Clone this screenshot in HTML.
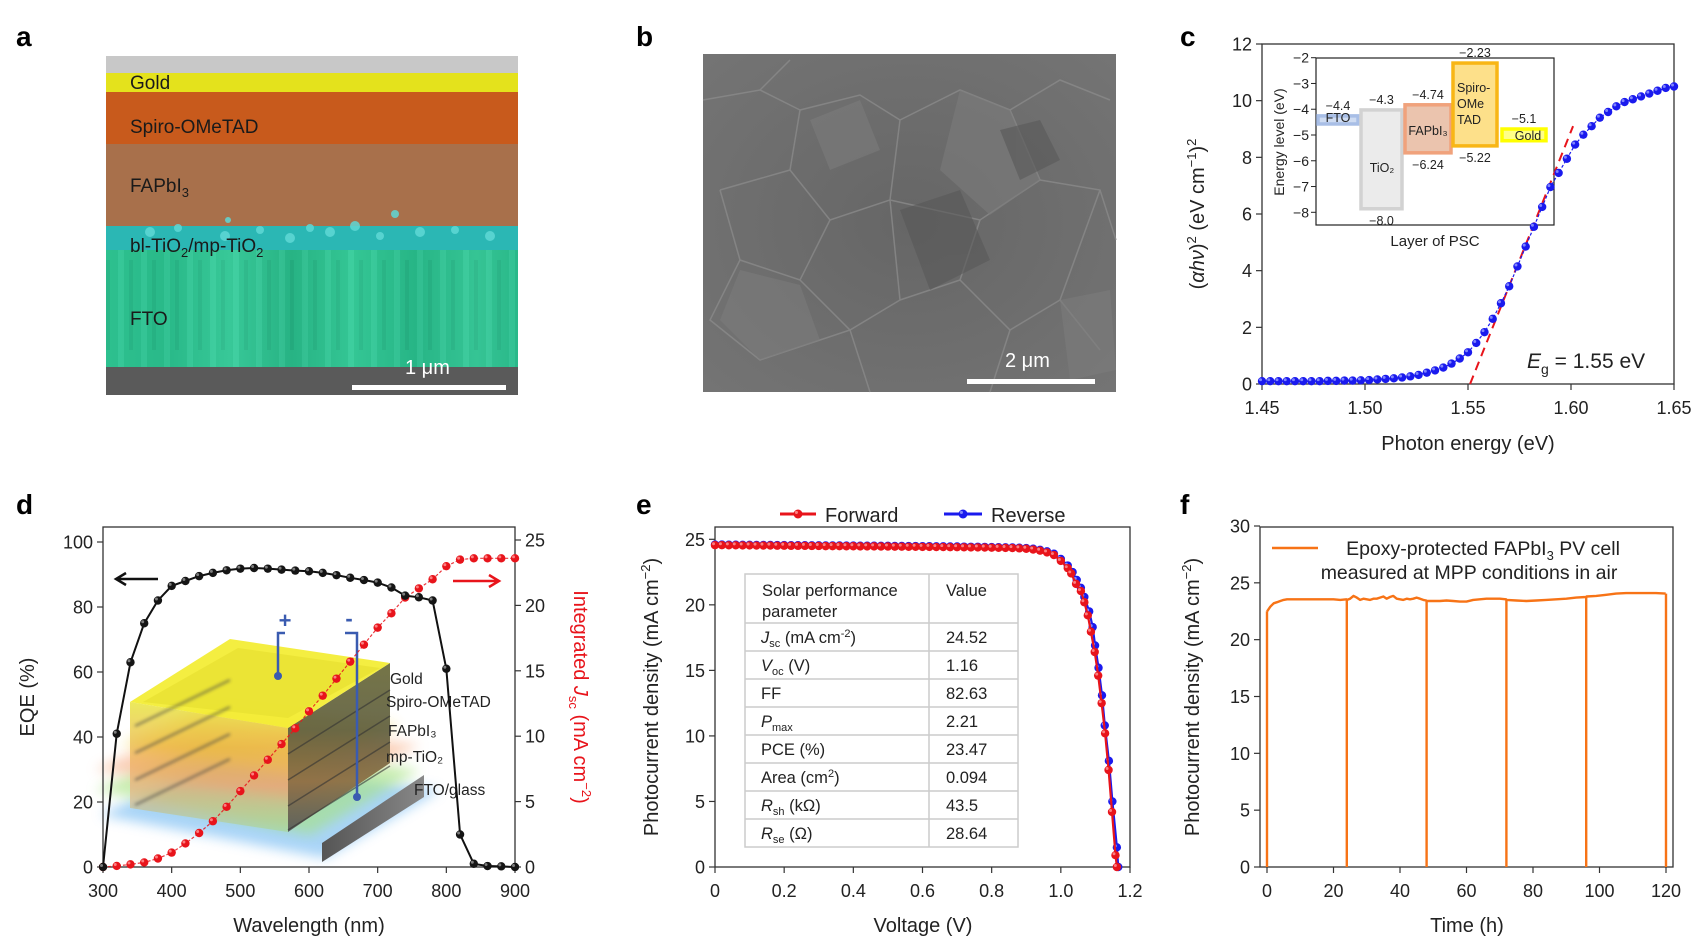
<!DOCTYPE html>
<html><head><meta charset="utf-8">
<style>
html,body{margin:0;padding:0;background:#fff;}
svg{display:block;font-family:"Liberation Sans",Arial,sans-serif;}
</style></head>
<body>
<svg id="fig" width="1698" height="941" viewBox="0 0 1698 941" xmlns="http://www.w3.org/2000/svg">
<defs>
  <linearGradient id="fgrad" x1="0" y1="0" x2="1" y2="0">
    <stop offset="0" stop-color="#2fc392"/><stop offset="0.15" stop-color="#26b585"/><stop offset="0.3" stop-color="#44d3a4"/><stop offset="0.45" stop-color="#23a97c"/><stop offset="0.6" stop-color="#3ccf9d"/><stop offset="0.75" stop-color="#22ad80"/><stop offset="0.9" stop-color="#3fcb9d"/><stop offset="1" stop-color="#27b386"/>
  </linearGradient>
  <pattern id="fstripe" width="23" height="120" patternUnits="userSpaceOnUse">
    <rect width="23" height="120" fill="#2cbd8c"/>
    <rect x="3" y="0" width="6" height="120" fill="#47d6a8" opacity="0.7"/>
    <rect x="14" y="20" width="4" height="90" fill="#1f9f74" opacity="0.6"/>
  </pattern>
  <radialGradient id="semg" cx="0.5" cy="0.5" r="0.7">
    <stop offset="0" stop-color="#666"/><stop offset="1" stop-color="#747474"/>
  </radialGradient>
  <linearGradient id="slabFront" x1="0" y1="0" x2="0" y2="1">
    <stop offset="0" stop-color="#e8e640" stop-opacity="0.85"/><stop offset="0.35" stop-color="#e9b23a" stop-opacity="0.7"/><stop offset="0.65" stop-color="#f0a070" stop-opacity="0.6"/><stop offset="1" stop-color="#a8d890" stop-opacity="0.6"/>
  </linearGradient>
  <linearGradient id="slabRight" x1="0" y1="0" x2="0" y2="1">
    <stop offset="0" stop-color="#666633"/><stop offset="0.4" stop-color="#5b5a3a"/><stop offset="0.7" stop-color="#8a6a40"/><stop offset="1" stop-color="#555"/>
  </linearGradient>
  <linearGradient id="plateG" x1="0" y1="0" x2="1" y2="0">
    <stop offset="0" stop-color="#555"/><stop offset="1" stop-color="#888"/>
  </linearGradient>
  <filter id="blur6"><feGaussianBlur stdDeviation="6"/></filter>
  <filter id="blur2"><feGaussianBlur stdDeviation="1.5"/></filter>
</defs>

<text x="16" y="46" font-size="28" font-weight="bold">a</text>
<text x="636" y="46" font-size="28" font-weight="bold">b</text>
<text x="1180" y="46" font-size="28" font-weight="bold">c</text>
<text x="16" y="514" font-size="28" font-weight="bold">d</text>
<text x="636" y="514" font-size="28" font-weight="bold">e</text>
<text x="1180" y="514" font-size="28" font-weight="bold">f</text>

<g>
  <rect x="106" y="56" width="412" height="339" fill="#bdbdbd"/>
  <rect x="106" y="56" width="412" height="20" fill="#c8c8c8"/>
  <rect x="106" y="73" width="412" height="22" fill="#e4e21c"/>
  <rect x="106" y="92" width="412" height="54" fill="#c85a1c"/>
  <rect x="106" y="144" width="412" height="84" fill="#a8704b"/>
  <rect x="106" y="226" width="412" height="28" fill="#2bb7b4"/>
  <rect x="106" y="250" width="412" height="120" fill="url(#fstripe)"/>
  <rect x="106" y="250" width="412" height="120" fill="url(#fgrad)" opacity="0.5"/>
  <rect x="106" y="367" width="412" height="28" fill="#5a5a5a"/>
  <g fill="#5fd8d6" opacity="0.85">
    <circle cx="150" cy="232" r="5"/><circle cx="178" cy="228" r="4"/><circle cx="225" cy="236" r="5"/><circle cx="260" cy="230" r="4"/><circle cx="290" cy="238" r="5"/><circle cx="310" cy="228" r="4"/><circle cx="330" cy="232" r="5"/><circle cx="355" cy="226" r="5"/><circle cx="380" cy="236" r="4"/><circle cx="420" cy="232" r="5"/><circle cx="455" cy="230" r="4"/><circle cx="490" cy="236" r="5"/><circle cx="395" cy="214" r="4"/><circle cx="228" cy="220" r="3"/>
  </g>
  <rect x="352" y="385" width="154" height="5" fill="#fff"/>
  <text x="405" y="374" font-size="20" fill="#fff">1 μm</text>
  <g font-size="19" fill="#1a1a1a">
    <text x="130" y="89">Gold</text>
    <text x="130" y="133">Spiro-OMeTAD</text>
    <text x="130" y="192">FAPbI<tspan font-size="13" dy="5">3</tspan></text>
    <text x="130" y="252">bl-TiO<tspan font-size="13" dy="5">2</tspan><tspan dy="-5">/mp-TiO</tspan><tspan font-size="13" dy="5">2</tspan></text>
    <text x="130" y="325">FTO</text>
  </g>
</g>

<g>
  <rect x="703" y="54" width="413" height="338" fill="url(#semg)"/>
  <g fill="none" stroke="#8a8a8a" stroke-width="1.5" opacity="0.8">
    <path d="M703 100 L760 90 L800 110 L790 170 L720 190"/>
    <path d="M760 90 L790 60 M800 110 L860 95 L900 120 L890 200 L830 220 L790 170"/>
    <path d="M900 120 L960 90 L1010 110 L1040 180 L980 220 L890 200"/>
    <path d="M1010 110 L1060 80 L1110 100 M1040 180 L1100 190 L1116 240"/>
    <path d="M720 190 L740 260 L800 280 L830 220 M800 280 L850 330 L900 300 L890 200"/>
    <path d="M900 300 L960 280 L980 220 M960 280 L1010 330 L1060 300 L1100 190"/>
    <path d="M740 260 L710 320 L760 360 L850 330 M850 330 L870 392 M1010 330 L990 392 M1060 300 L1100 350"/>
  </g>
  <g fill="#7c7c7c" opacity="0.6">
    <polygon points="960,90 1010,110 1040,180 990,215 940,170"/>
    <polygon points="740,270 800,285 820,340 760,360 720,320"/>
    <polygon points="1060,300 1110,290 1116,370 1070,380"/>
    <polygon points="810,120 860,100 880,150 830,170"/>
  </g>
  <g fill="#585858" opacity="0.6">
    <polygon points="900,210 960,190 990,260 930,290"/>
    <polygon points="1000,130 1040,120 1060,160 1020,180"/>
  </g>
  <rect x="967" y="379" width="128" height="5" fill="#fff"/>
  <text x="1005" y="367" font-size="20" fill="#fff">2 μm</text>
</g>

<g id="panelC"></g>
<g id="panelD"></g>
<g id="panelE"></g>
<g id="panelF"></g>
</svg>

<script>
const cEnergy = [1.450,1.454,1.458,1.462,1.466,1.470,1.474,1.478,1.482,1.486,1.490,1.494,1.498,1.502,1.506,1.510,1.514,1.518,1.522,1.526,1.530,1.534,1.538,1.542,1.546,1.550,1.554,1.558,1.562,1.566,1.570,1.574,1.578,1.582,1.586,1.590,1.594,1.598,1.602,1.606,1.610,1.614,1.618,1.622,1.626,1.630,1.634,1.638,1.642,1.646,1.650];
const cAbs = [0.10,0.10,0.10,0.10,0.10,0.10,0.10,0.10,0.11,0.11,0.12,0.12,0.13,0.14,0.16,0.18,0.20,0.23,0.27,0.32,0.40,0.48,0.58,0.72,0.90,1.12,1.45,1.83,2.30,2.85,3.45,4.15,4.85,5.55,6.25,6.95,7.45,7.95,8.45,8.80,9.10,9.40,9.60,9.80,9.95,10.05,10.15,10.25,10.35,10.45,10.50];
const cFitX = [1.551,1.601];
const cFitY = [0,9.1];
const cXTicks = [1.45,1.50,1.55,1.60,1.65];
const cXTickLabels = ['1.45','1.50','1.55','1.60','1.65'];
const cYTicks = [0,2,4,6,8,10,12];
const insetTicks = [-2,-3,-4,-5,-6,-7,-8];
const insetLayers = ['FTO','TiO2','FAPbI3','Spiro','Gold'];
const insetTop = [-4.18,-3.95,-3.75,-2.13,-4.69];
const insetBottom = [-4.65,-7.94,-5.77,-5.50,-5.30];
const insetLabelTop = ['−4.4','−4.3','−4.74','−2.23','−5.1'];
const insetLabelBottom = ['','−8.0','−6.24','−5.22',''];

const dWavelength = [300,320,340,360,380,400,420,440,460,480,500,520,540,560,580,600,620,640,660,680,700,720,740,760,780,800,820,840,860,880,900];
const dEQE = [0,41,63,75,82,86.5,88,89.5,90.5,91.3,91.8,92,91.8,91.5,91.2,91,90.5,89.8,89,88.3,87.5,86,83.5,83,82,61,10,1,0.3,0.2,0];
const dJsc = [0,0.08,0.2,0.35,0.65,1.1,1.8,2.6,3.5,4.6,5.8,7.0,8.2,9.4,10.6,11.9,13.1,14.4,15.7,17.0,18.3,19.4,20.6,21.3,22.0,23.0,23.5,23.6,23.6,23.6,23.6];
const dXTicks = [300,400,500,600,700,800,900];
const dYTicks = [0,20,40,60,80,100];
const dY2Ticks = [0,5,10,15,20,25];

const eFwdV = [0,0.02,0.04,0.06,0.08,0.10,0.12,0.14,0.16,0.18,0.20,0.22,0.24,0.26,0.28,0.30,0.32,0.34,0.36,0.38,0.40,0.42,0.44,0.46,0.48,0.50,0.52,0.54,0.56,0.58,0.60,0.62,0.64,0.66,0.68,0.70,0.72,0.74,0.76,0.78,0.80,0.82,0.84,0.86,0.88,0.90,0.92,0.94,0.96,0.98,1.00,1.02,1.03,1.044,1.058,1.068,1.078,1.087,1.098,1.108,1.118,1.128,1.138,1.148,1.158,1.162];
const eFwdJ = [24.55,24.55,24.54,24.54,24.53,24.53,24.52,24.52,24.52,24.51,24.51,24.5,24.5,24.5,24.49,24.49,24.48,24.48,24.48,24.47,24.47,24.46,24.46,24.46,24.45,24.45,24.44,24.44,24.43,24.43,24.42,24.42,24.41,24.41,24.4,24.4,24.39,24.38,24.38,24.37,24.36,24.35,24.34,24.33,24.31,24.28,24.22,24.13,24.0,23.8,23.35,22.8,22.4,21.6,21.05,20.2,19.2,17.95,16.4,14.6,12.5,10.2,7.4,4.2,0.9,0];
const eRevV = [0,0.02,0.04,0.06,0.08,0.10,0.12,0.14,0.16,0.18,0.20,0.22,0.24,0.26,0.28,0.30,0.32,0.34,0.36,0.38,0.40,0.42,0.44,0.46,0.48,0.50,0.52,0.54,0.56,0.58,0.60,0.62,0.64,0.66,0.68,0.70,0.72,0.74,0.76,0.78,0.80,0.82,0.84,0.86,0.88,0.90,0.92,0.94,0.96,0.98,1.00,1.02,1.034,1.046,1.058,1.068,1.082,1.092,1.099,1.109,1.119,1.127,1.139,1.149,1.162,1.166];
const eRevJ = [24.6,24.6,24.59,24.59,24.58,24.58,24.57,24.57,24.57,24.56,24.56,24.55,24.55,24.55,24.54,24.54,24.53,24.53,24.53,24.52,24.52,24.51,24.51,24.51,24.5,24.5,24.49,24.49,24.48,24.48,24.47,24.47,24.46,24.46,24.45,24.45,24.44,24.43,24.43,24.42,24.41,24.4,24.39,24.38,24.36,24.33,24.28,24.2,24.08,23.9,23.5,23.0,22.5,21.9,21.3,20.6,19.5,18.3,16.9,15.2,13.1,10.8,8.1,5.0,1.5,0];
const eXTicks = [0,0.2,0.4,0.6,0.8,1.0,1.2];
const eXTickLabels = ['0','0.2','0.4','0.6','0.8','1.0','1.2'];
const eYTicks = [0,5,10,15,20,25];
const eParams = ['Jsc','Voc','FF','Pmax','PCE','Area','Rsh','Rse'];
const eValues = ['24.52','1.16','82.63','2.21','23.47','0.094','43.5','28.64'];

const fTime = [0,0.3,1,2,3,4,5,6,8,10,12,14,16,18,20,22,23.9,24.1,25,26,27,28,29,30,31,32,33,34,35,36,37,38,39,40,41,42,43,44,45,46,47,47.9,48.1,50,52,54,56,58,60,62,64,66,68,70,71.9,72.1,75,78,81,84,87,90,93,95.9,96.1,99,102,105,108,111,114,117,119.9];
const fJ = [22.5,22.6,22.9,23.2,23.3,23.4,23.5,23.55,23.55,23.55,23.55,23.55,23.55,23.55,23.55,23.5,23.55,23.5,23.6,23.85,23.7,23.5,23.6,23.55,23.5,23.6,23.6,23.7,23.8,23.6,23.75,23.85,23.6,23.55,23.5,23.6,23.55,23.6,23.7,23.6,23.5,23.45,23.4,23.4,23.4,23.45,23.4,23.35,23.35,23.5,23.55,23.6,23.6,23.6,23.55,23.5,23.45,23.4,23.45,23.5,23.55,23.6,23.7,23.75,23.8,23.85,23.95,24.05,24.1,24.1,24.1,24.1,24.05];
const fDrops = [0,24,48,72,96,120];
const fXTicks = [0,20,40,60,80,100,120];
const fYTicks = [0,5,10,15,20,25,30];

const NS = 'http://www.w3.org/2000/svg';
function mk(tag, attrs, parent) {
  const e = document.createElementNS(NS, tag);
  for (const k in attrs) e.setAttribute(k, attrs[k]);
  parent.appendChild(e);
  return e;
}
function lin(d0, d1, r0, r1) { return v => r0 + (v - d0) * (r1 - r0) / (d1 - d0); }
function frame(g, x0, y0, x1, y1) {
  const r = mk('rect', {x: x0, y: y0, width: x1 - x0, height: y1 - y0, fill: 'none', stroke: '#333', 'stroke-width': 1.3}, g);
  
  
}
function xTicks(g, vals, labels, sx, y, size) {
  vals.forEach((v, i) => {
    const t = mk('line', {x1: sx(v), x2: sx(v), y1: y, y2: y + 6, stroke: '#333', 'stroke-width': 1.2}, g);
    
    
    const l = mk('text', {x: sx(v), y: y + 30, 'font-size': size, 'text-anchor': 'middle', fill: '#222'}, g);
    
    
    l.textContent = labels[i];
  });
}
function yTicks(g, vals, labels, sy, x, dir, size, color) {
  vals.forEach((v, i) => {
    const t = mk('line', {x1: x, x2: x + 6 * dir, y1: sy(v), y2: sy(v), stroke: '#333', 'stroke-width': 1.2}, g);
    
    
    const l = mk('text', {x: x + 10 * dir, y: sy(v) + size * 0.36, 'font-size': size, 'text-anchor': dir < 0 ? 'end' : 'start', fill: color || '#222'}, g);
    
    
    l.textContent = labels[i];
  });
}
function polyPath(xs, ys, sx, sy) {
  return xs.map((v, i) => (i ? 'L' : 'M') + sx(v).toFixed(1) + ' ' + sy(ys[i]).toFixed(1)).join(' ');
}
function ballMarker(g, cx, cy, r, fill, hi, name) {
  const c = mk('circle', {cx: cx, cy: cy, r: r, fill: fill}, g);
  
  
  mk('circle', {cx: cx - r * 0.35, cy: cy - r * 0.35, r: r * 0.35, fill: hi, opacity: 0.8}, g);
}

(function () {
  const g = document.getElementById('panelC');
  const X0 = 1262, X1 = 1674, Y0 = 384, Y1 = 44;
  const sx = lin(1.45, 1.65, X0, X1), sy = lin(0, 12, Y0, Y1);
  frame(g, X0, Y1, X1, Y0);
  xTicks(g, cXTicks, cXTickLabels, sx, Y0, 18);
  yTicks(g, cYTicks, cYTicks.map(String), sy, X0, -1, 18);
  const ix0 = 1316, ix1 = 1554, iy0 = 58, iy1 = 225;
  const isy = lin(-2, -8, 57.7, 212.3);
  const ir = mk('rect', {x: ix0, y: iy0, width: ix1 - ix0, height: iy1 - iy0, fill: '#fff', stroke: '#222', 'stroke-width': 1.2}, g);
  
  
  insetTicks.forEach(v => {
    const t = mk('line', {x1: ix0, x2: ix0 - 5, y1: isy(v), y2: isy(v), stroke: '#222'}, g);
    
    
    const l = mk('text', {x: ix0 - 7, y: isy(v) + 5, 'font-size': 14, 'text-anchor': 'end', fill: '#222'}, g);
    
    
    l.textContent = '−' + Math.abs(v);
  });
  const bx = [[1316,1360],[1359,1404],[1403,1453],[1451,1499],[1500,1548]];
  const fills = ['#cfdcf2','#ebebeb','#ebc4ae','#fde08a','#ffff88'];
  const strokes = ['#a8bee6','#d2d2d2','#f0a27c','#f8b616','#ffff00'];
  insetLayers.forEach((n, i) => {
    const r = mk('rect', {x: bx[i][0] + 2, y: isy(insetTop[i]) + 2, width: bx[i][1] - bx[i][0] - 4, height: isy(insetBottom[i]) - isy(insetTop[i]) - 4, fill: fills[i], stroke: strokes[i], 'stroke-width': 3.5}, g);
    
    
    const cx = (bx[i][0] + bx[i][1]) / 2;
    const tl = mk('text', {x: cx, y: isy(insetTop[i]) - 4, 'font-size': 12.5, 'text-anchor': 'middle', fill: '#222'}, g);
    
    
    tl.textContent = insetLabelTop[i];
    if (insetLabelBottom[i]) {
      const bl = mk('text', {x: cx, y: isy(insetBottom[i]) + 14, 'font-size': 12.5, 'text-anchor': 'middle', fill: '#222'}, g);
      
      
      bl.textContent = insetLabelBottom[i];
    }
  });
  const names = [['FTO',1338,122],['TiO₂',1382,172],['FAPbI₃',1428,135],['Gold',1528,140]];
  names.forEach(n => {
    const t = mk('text', {x: n[1], y: n[2], 'font-size': 12.5, 'text-anchor': 'middle', fill: '#222'}, g);
    
    
    t.textContent = n[0];
  });
  ['Spiro-','OMe','TAD'].forEach((s, i) => {
    const t = mk('text', {x: 1457, y: 92 + i * 16, 'font-size': 12.5, fill: '#222'}, g);
    
    
    t.textContent = s;
  });
  const iyl = mk('text', {x: 0, y: 0, 'font-size': 14, 'text-anchor': 'middle', fill: '#222', transform: 'translate(1284,142) rotate(-90)'}, g);
  
  
  iyl.textContent = 'Energy level (eV)';
  const ixl = mk('text', {x: 1435, y: 246, 'font-size': 15, 'text-anchor': 'middle', fill: '#222'}, g);
  
  
  ixl.textContent = 'Layer of PSC';
  const fit = mk('line', {x1: sx(cFitX[0]), y1: sy(cFitY[0]), x2: sx(cFitX[1]), y2: sy(cFitY[1]), stroke: '#e8141b', 'stroke-width': 2, 'stroke-dasharray': '9,6'}, g);
  
  
  const ln = mk('path', {d: polyPath(cEnergy, cAbs, sx, sy), fill: 'none', stroke: '#1a1aee', 'stroke-width': 1.2, 'stroke-dasharray': '3,2'}, g);
  
  
  cEnergy.forEach((e, i) => ballMarker(g, sx(e), sy(cAbs[i]), 4.2, '#1a1aee', '#9aa0ff', 'tauc-point'));
  const eg = mk('text', {x: 1527, y: 368, 'font-size': 21, fill: '#222'}, g);
  
  
  eg.innerHTML = '<tspan font-style="italic">E</tspan><tspan font-size="14" dy="6">g</tspan><tspan dy="-6"> = 1.55 eV</tspan>';
  const xt = mk('text', {x: 1468, y: 450, 'font-size': 20, 'text-anchor': 'middle', fill: '#222'}, g);
  
  
  xt.textContent = 'Photon energy (eV)';
  const yt = mk('text', {x: 0, y: 0, 'font-size': 20, 'text-anchor': 'middle', fill: '#222', transform: 'translate(1204,214) rotate(-90)'}, g);
  
  
  yt.innerHTML = '(<tspan font-style="italic">αhν</tspan>)<tspan font-size="13" dy="-8">2</tspan><tspan dy="8"> (eV cm</tspan><tspan font-size="13" dy="-8">−1</tspan><tspan dy="8">)</tspan><tspan font-size="13" dy="-8">2</tspan>';
})();

(function () {
  const g = document.getElementById('panelD');
  const X0 = 103, X1 = 515, Y0 = 867, Y1 = 527;
  const sx = lin(300, 900, X0, X1), sy = lin(0, 100, Y0, 542), sy2 = lin(0, 25, Y0, 540);
  const ill = mk('g', {}, g);
  
  
  mk('polygon', {points: '100,815 215,760 440,790 325,858', fill: '#8cc6f4', opacity: 0.75, filter: 'url(#blur6)'}, ill);
  mk('polygon', {points: '95,790 205,740 420,770 310,835', fill: '#a6e27e', opacity: 0.6, filter: 'url(#blur6)'}, ill);
  mk('polygon', {points: '95,770 200,720 420,745 300,800', fill: '#f6a070', opacity: 0.5, filter: 'url(#blur6)'}, ill);
  mk('polygon', {points: '120,745 210,700 400,725 300,775', fill: '#f7d640', opacity: 0.45, filter: 'url(#blur6)'}, ill);
  mk('polygon', {points: '322,843 424,775 424,797 322,862', fill: 'url(#plateG)'}, ill);
  mk('polygon', {points: '130,702 288,728 288,832 130,808', fill: 'url(#slabFront)'}, ill);
  mk('polygon', {points: '288,728 390,663 390,763 288,832', fill: 'url(#slabRight)', opacity: 0.9}, ill);
  mk('polygon', {points: '130,702 230,639 390,663 288,728', fill: '#f3ec2c', opacity: 0.9}, ill);
  mk('polygon', {points: '143,702 238,648 380,668 288,718', fill: '#e7e030', opacity: 0.7}, ill);
  [730, 756, 782, 806].forEach((yy, k) => {
    mk('line', {x1: 135, y1: yy - 4 + k, x2: 230, y2: yy - 50 + k, stroke: '#444', 'stroke-width': 2, opacity: 0.7, filter: 'url(#blur2)'}, ill);
    mk('line', {x1: 288, y1: yy + 24, x2: 390, y2: yy - 40, stroke: '#333', 'stroke-width': 1.5, opacity: 0.6}, ill);
  });
  mk('path', {d: 'M285 633 L278 633 L278 676', stroke: '#3a5bb0', 'stroke-width': 2.5, fill: 'none'}, ill);
  mk('circle', {cx: 278, cy: 676, r: 4, fill: '#3a5bb0'}, ill);
  mk('path', {d: 'M345 633 L357 633 L357 797', stroke: '#3a5bb0', 'stroke-width': 2.5, fill: 'none'}, ill);
  mk('circle', {cx: 357, cy: 797, r: 4, fill: '#3a5bb0'}, ill);
  const plus = mk('text', {x: 285, y: 628, 'font-size': 22, 'font-weight': 'bold', 'text-anchor': 'middle', fill: '#3a5bb0'}, ill);
  
  
  plus.textContent = '+';
  const minus = mk('text', {x: 349, y: 626, 'font-size': 22, 'font-weight': 'bold', 'text-anchor': 'middle', fill: '#3a5bb0'}, ill);
  
  
  minus.textContent = '-';
  const lbls = [['Gold',390,684],['Spiro-OMeTAD',386,707],['FAPbI₃',388,736],['mp-TiO₂',386,762],['FTO/glass',414,795]];
  lbls.forEach(l => {
    const t = mk('text', {x: l[1], y: l[2], 'font-size': 15.5, fill: '#222'}, ill);
    
    
    t.textContent = l[0];
  });
  frame(g, X0, Y1, X1, Y0);
  xTicks(g, dXTicks, dXTicks.map(String), sx, Y0, 18);
  yTicks(g, dYTicks, dYTicks.map(String), sy, X0, -1, 18);
  yTicks(g, dY2Ticks, dY2Ticks.map(String), sy2, X1, 1, 18);
  const jl = mk('path', {d: polyPath(dWavelength, dJsc, sx, sy2), fill: 'none', stroke: '#e8141b', 'stroke-width': 1.2, 'stroke-dasharray': '3,2', opacity: 0.85}, g);
  
  
  dWavelength.forEach((w, i) => ballMarker(g, sx(w), sy2(dJsc[i]), 4.2, '#e8141b', '#ff9a9a', 'jsc-point'));
  const el = mk('path', {d: polyPath(dWavelength, dEQE, sx, sy), fill: 'none', stroke: '#111', 'stroke-width': 2}, g);
  
  
  dWavelength.forEach((w, i) => ballMarker(g, sx(w), sy(dEQE[i]), 4.2, '#151515', '#999', 'eqe-point'));
  const a1 = mk('path', {d: 'M158 579 L118 579 M126 573 L116 579 L126 585', stroke: '#111', 'stroke-width': 2.5, fill: 'none'}, g);
  
  
  const a2 = mk('path', {d: 'M453 581 L497 581 M489 575 L499 581 L489 587', stroke: '#e8141b', 'stroke-width': 2.5, fill: 'none'}, g);
  
  
  const xt = mk('text', {x: 309, y: 932, 'font-size': 20, 'text-anchor': 'middle', fill: '#222'}, g);
  
  
  xt.textContent = 'Wavelength (nm)';
  const yt = mk('text', {x: 0, y: 0, 'font-size': 20, 'text-anchor': 'middle', fill: '#222', transform: 'translate(34,697) rotate(-90)'}, g);
  
  
  yt.textContent = 'EQE (%)';
  const yt2 = mk('text', {x: 0, y: 0, 'font-size': 20, 'text-anchor': 'middle', fill: '#e8141b', transform: 'translate(574,697) rotate(90)'}, g);
  
  
  yt2.innerHTML = 'Integrated <tspan font-style="italic">J</tspan><tspan font-size="13" dy="5">sc</tspan><tspan dy="-5"> (mA cm</tspan><tspan font-size="13" dy="-8">−2</tspan><tspan dy="8">)</tspan>';
})();

(function () {
  const g = document.getElementById('panelE');
  const X0 = 715, X1 = 1130, Y0 = 867, Y1 = 527;
  const sx = lin(0, 1.2, X0, X1), sy = lin(0, 25, Y0, 539.3);
  frame(g, X0, Y1, X1, Y0);
  xTicks(g, eXTicks, eXTickLabels, sx, Y0, 18);
  yTicks(g, eYTicks, eYTicks.map(String), sy, X0, -1, 18);
  const tx0 = 745, tx1 = 1018, tmid = 929;
  const rows = [574, 623, 651, 679, 707, 735, 763, 791, 819, 847];
  const tb = mk('g', {}, g);
  
  
  mk('rect', {x: tx0, y: rows[0], width: tx1 - tx0, height: rows[9] - rows[0], fill: '#fff', stroke: '#ccc', 'stroke-width': 1.5}, tb);
  mk('line', {x1: tmid, x2: tmid, y1: rows[0], y2: rows[9], stroke: '#ccc', 'stroke-width': 1.5}, tb);
  rows.slice(1, 9).forEach(r => mk('line', {x1: tx0, x2: tx1, y1: r, y2: r, stroke: '#ccc', 'stroke-width': 1.5}, tb));
  const h1 = mk('text', {x: 762, y: 596, 'font-size': 16.5, fill: '#222'}, tb);
  
  
  h1.textContent = 'Solar performance';
  const h1b = mk('text', {x: 762, y: 617, 'font-size': 16.5, fill: '#222'}, tb);
  h1b.textContent = 'parameter';
  const h2 = mk('text', {x: 946, y: 596, 'font-size': 16.5, fill: '#222'}, tb);
  
  
  h2.textContent = 'Value';
  const pHTML = {
    Jsc: '<tspan font-style="italic">J</tspan><tspan font-size="11" dy="4">sc</tspan><tspan dy="-4"> (mA cm</tspan><tspan font-size="11" dy="-6">-2</tspan><tspan dy="6">)</tspan>',
    Voc: '<tspan font-style="italic">V</tspan><tspan font-size="11" dy="4">oc</tspan><tspan dy="-4"> (V)</tspan>',
    FF: 'FF',
    Pmax: '<tspan font-style="italic">P</tspan><tspan font-size="11" dy="4">max</tspan>',
    PCE: 'PCE (%)',
    Area: 'Area (cm<tspan font-size="11" dy="-6">2</tspan><tspan dy="6">)</tspan>',
    Rsh: '<tspan font-style="italic">R</tspan><tspan font-size="11" dy="4">sh</tspan><tspan dy="-4"> (kΩ)</tspan>',
    Rse: '<tspan font-style="italic">R</tspan><tspan font-size="11" dy="4">se</tspan><tspan dy="-4"> (Ω)</tspan>'
  };
  eParams.forEach((p, i) => {
    const yy = (rows[i + 1] + rows[i + 2]) / 2 + 6;
    const t = mk('text', {x: 761, y: yy, 'font-size': 16.5, fill: '#222'}, tb);
    
    
    t.innerHTML = pHTML[p];
    const v = mk('text', {x: 946, y: yy, 'font-size': 16.5, fill: '#222'}, tb);
    
    
    v.textContent = eValues[i];
  });
  const rl = mk('path', {d: polyPath(eRevV, eRevJ, sx, sy), fill: 'none', stroke: '#1a1aee', 'stroke-width': 2.2}, g);
  
  
  eRevV.forEach((v, i) => ballMarker(g, sx(v), sy(eRevJ[i]), 4.2, '#1a1aee', '#9aa0ff', 'reverse-point'));
  const fl = mk('path', {d: polyPath(eFwdV, eFwdJ, sx, sy), fill: 'none', stroke: '#e8141b', 'stroke-width': 2.2}, g);
  
  
  eFwdV.forEach((v, i) => ballMarker(g, sx(v), sy(eFwdJ[i]), 4.2, '#e8141b', '#ff9a9a', 'forward-point'));
  const lg = mk('g', {}, g);
  
  
  mk('line', {x1: 780, x2: 816, y1: 514, y2: 514, stroke: '#e8141b', 'stroke-width': 3}, lg);
  ballMarker(lg, 798, 514, 4.5, '#e8141b', '#ff9a9a', 'legend-marker-forward');
  const lt1 = mk('text', {x: 825, y: 522, 'font-size': 20, fill: '#222'}, lg);
  
  
  lt1.textContent = 'Forward';
  mk('line', {x1: 944, x2: 982, y1: 514, y2: 514, stroke: '#1a1aee', 'stroke-width': 3}, lg);
  ballMarker(lg, 963, 514, 4.5, '#1a1aee', '#9aa0ff', 'legend-marker-reverse');
  const lt2 = mk('text', {x: 991, y: 522, 'font-size': 20, fill: '#222'}, lg);
  
  
  lt2.textContent = 'Reverse';
  const xt = mk('text', {x: 923, y: 932, 'font-size': 20, 'text-anchor': 'middle', fill: '#222'}, g);
  
  
  xt.textContent = 'Voltage (V)';
  const yt = mk('text', {x: 0, y: 0, 'font-size': 20, 'text-anchor': 'middle', fill: '#222', transform: 'translate(658,697) rotate(-90)'}, g);
  
  
  yt.innerHTML = 'Photocurrent density (mA cm<tspan font-size="13" dy="-8">−2</tspan><tspan dy="8">)</tspan>';
})();

(function () {
  const g = document.getElementById('panelF');
  const X0 = 1260, X1 = 1673, Y0 = 867, Y1 = 527;
  const sx = lin(0, 120, 1267, 1666), sy = lin(0, 30, Y0, 526);
  frame(g, X0, Y1, X1, Y0);
  xTicks(g, fXTicks, fXTicks.map(String), sx, Y0, 18);
  yTicks(g, fYTicks, fYTicks.map(String), sy, X0, -1, 18);
  const ln = mk('path', {d: polyPath(fTime, fJ, sx, sy), fill: 'none', stroke: '#f77316', 'stroke-width': 2.4, 'stroke-linejoin': 'round'}, g);
  
  
  fDrops.forEach(t => {
    let k = 0, best = 1e9;
    fTime.forEach((tt, i) => { if (Math.abs(tt - t) < best) { best = Math.abs(tt - t); k = i; } });
    const d = mk('line', {x1: sx(t), x2: sx(t), y1: sy(0), y2: sy(fJ[k]), stroke: '#f77316', 'stroke-width': 2.4}, g);
    
    
  });
  const lg = mk('g', {}, g);
  
  
  mk('line', {x1: 1272, x2: 1318, y1: 548, y2: 548, stroke: '#f77316', 'stroke-width': 2.6}, lg);
  const l1 = mk('text', {x: 1483, y: 555, 'font-size': 19.5, 'text-anchor': 'middle', fill: '#222'}, lg);
  
  
  l1.innerHTML = 'Epoxy-protected FAPbI<tspan font-size="13" dy="5">3</tspan><tspan dy="-5"> PV cell</tspan>';
  const l2 = mk('text', {x: 1469, y: 579, 'font-size': 19.5, 'text-anchor': 'middle', fill: '#222'}, lg);
  
  
  l2.textContent = 'measured at MPP conditions in air';
  const xt = mk('text', {x: 1467, y: 932, 'font-size': 20, 'text-anchor': 'middle', fill: '#222'}, g);
  
  
  xt.textContent = 'Time (h)';
  const yt = mk('text', {x: 0, y: 0, 'font-size': 20, 'text-anchor': 'middle', fill: '#222', transform: 'translate(1199,697) rotate(-90)'}, g);
  
  
  yt.innerHTML = 'Photocurrent density (mA cm<tspan font-size="13" dy="-8">−2</tspan><tspan dy="8">)</tspan>';
})();
</script>
</body></html>
